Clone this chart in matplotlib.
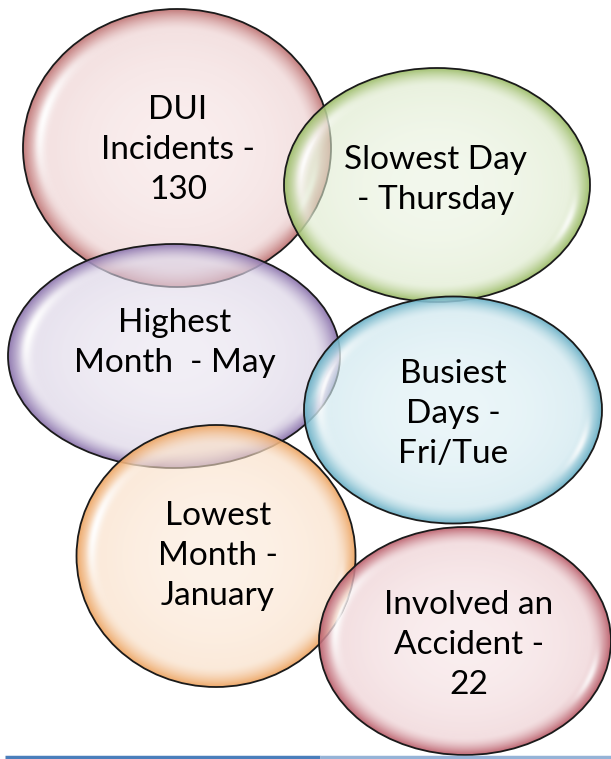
import numpy as np
import matplotlib
matplotlib.use("Agg")
import matplotlib.pyplot as plt
from matplotlib.patches import Ellipse
from matplotlib.colors import to_rgb

# facts shown in the bubbles
labels = [
    "DUI\nIncidents -\n130",
    "Slowest Day\n- Thursday",
    "Highest\nMonth  - May",
    "Busiest\nDays -\nFri/Tue",
    "Lowest\nMonth -\nJanuary",
    "Involved an\nAccident -\n22",
]

# bubble colours (centre tint, rim tint)
centre_colors = ["#faeeee", "#f3f8ed", "#f2eff6", "#ebf6f9", "#fdf2e8", "#faeeef"]
rim_colors = ["#c27a7a", "#a0bf6e", "#9079b0", "#6fb3c8", "#eea868", "#bd6470"]

# layout in pixels (image coords, y down)
W, H = 611, 759
bubble_x = [177, 437, 174, 453, 216, 465]
bubble_y = [148, 185, 356, 410, 556, 641]
bubble_w = [308, 306, 332, 298, 279, 292]
bubble_h = [278, 234, 224, 227, 262, 228]
text_x = [178, 436, 175, 453, 218, 469]
text_y = [150, 180, 343, 414, 556, 645]

fig = plt.figure(figsize=(W / 100, H / 100), dpi=100)
ax = fig.add_axes([0, 0, 1, 1])
ax.set_xlim(0, W)
ax.set_ylim(H, 0)
ax.axis("off")

yy, xx = np.mgrid[0:H, 0:W] + 0.5


def ang_weight(theta, centre, spread):
    d = np.angle(np.exp(1j * (theta - np.radians(centre))))
    return np.exp(-(d / np.radians(spread)) ** 2)


for i in range(len(labels)):
    cx, cy = bubble_x[i], bubble_y[i]
    w, h = bubble_w[i], bubble_h[i]
    u = (xx - cx) / (w / 2)
    v = -(yy - cy) / (h / 2)
    r = np.sqrt(u ** 2 + v ** 2)
    theta = np.arctan2(v, u)

    # pale body, darker band close to the rim
    t = 0.15 * np.clip(r, 0, 1) ** 2 + 0.85 * np.clip((r - 0.85) / 0.15, 0, 1) ** 1.6
    disp = (np.array(to_rgb(centre_colors[i])) * (1 - t)[..., None]
            + np.array(to_rgb(rim_colors[i])) * t[..., None])

    # soft white reflections: long one upper-left, short one lower-right
    hl = (0.95 * np.exp(-((r - 0.89) / 0.035) ** 2) * ang_weight(theta, 165, 30)
          + 0.8 * np.exp(-((r - 0.91) / 0.025) ** 2) * ang_weight(theta, -20, 14))
    hl = np.clip(hl, 0, 1)
    disp = disp + hl[..., None] * (1 - disp)

    a = 0.6 + 0.35 * np.clip((r - 0.8) / 0.2, 0, 1)
    a = np.maximum(a, hl)
    col = np.clip((disp - (1 - a)[..., None]) / a[..., None], 0, 1)
    rgba = np.dstack([col, np.where(r <= 1, a, 0.0)])
    ax.imshow(rgba, extent=(0, W, H, 0), interpolation="bilinear", zorder=2 * i)
    ax.add_patch(Ellipse((cx, cy), w, h, fill=False, edgecolor="#1a1a1a",
                         lw=1.3, zorder=2 * i + 1))

for i, lab in enumerate(labels):
    ax.text(text_x[i], text_y[i], lab, ha="center", va="center",
            fontsize=24, family="Lato", color="black", linespacing=1.42,
            zorder=100)

# bottom rule
ax.plot([5, 320], [757, 757], color="#4a7ebb", lw=2.5, zorder=50,
        solid_capstyle="butt")
ax.plot([320, W], [757, 757], color="#95b3d7", lw=2.5, zorder=50,
        solid_capstyle="butt")

fig.savefig("out.png", dpi=100)
